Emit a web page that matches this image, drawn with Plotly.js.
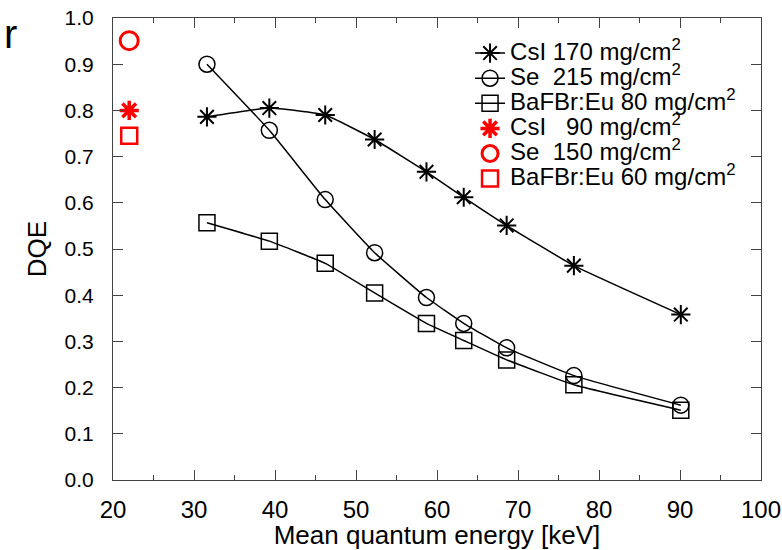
<!DOCTYPE html>
<html>
<head>
<meta charset="utf-8">
<script src="https://cdn.plot.ly/plotly-3.0.1.min.js"></script>
<style>html,body{margin:0;padding:0;background:#fff;}#chart{width:782px;height:550px;}</style>
</head>
<body>
<div id="chart"></div>
<script>
// Mean quantum energy [keV]
const energy = [31.6, 39.3, 46.2, 52.3, 58.7, 63.3, 68.6, 76.9, 90.1];
const csi170 = [0.786, 0.805, 0.790, 0.737, 0.667, 0.612, 0.551, 0.464, 0.358];
const se215 = [0.900, 0.757, 0.607, 0.492, 0.395, 0.339, 0.286, 0.226, 0.162];
const bafbr80 = [0.557, 0.517, 0.469, 0.405, 0.339, 0.302, 0.260, 0.206, 0.151];
const thinEnergy = [22];
const csi90 = [0.800];
const se150 = [0.951];
const bafbr60 = [0.745];
const seriesNames = [
  "CsI 170 mg/cm<sup>2</sup>",
  "Se\u00A0 215 mg/cm<sup>2</sup>",
  "BaFBr:Eu 80 mg/cm<sup>2</sup>",
  "CsI\u00A0\u00A0 90 mg/cm<sup>2</sup>",
  "Se\u00A0 150 mg/cm<sup>2</sup>",
  "BaFBr:Eu 60 mg/cm<sup>2</sup>"
];
const big = s => '<span style="font-size:24px">' + s + '</span>';

const blackLine = {color: "#000", width: 1.5, shape: "spline", smoothing: 0.35};
const traces = [
  {x: energy, y: csi170, name: big(seriesNames[0]), mode: "lines+markers", line: blackLine,
   marker: {symbol: "asterisk-open", size: 16, color: "#000", line: {color: "#000", width: 2}}},
  {x: energy, y: se215, name: big(seriesNames[1]), mode: "lines+markers", line: blackLine,
   marker: {symbol: "circle-open", size: 16, color: "#000", line: {color: "#000", width: 1.5}}},
  {x: energy, y: bafbr80, name: big(seriesNames[2]), mode: "lines+markers", line: blackLine,
   marker: {symbol: "square-open", size: 16, color: "#000", line: {color: "#000", width: 1.5}}},
  {x: thinEnergy, y: csi90, name: big(seriesNames[3]), mode: "markers",
   marker: {symbol: "asterisk-open", size: 16, color: "#ff0000", line: {color: "#ff0000", width: 3.5}}},
  {x: thinEnergy, y: se150, name: big(seriesNames[4]), mode: "markers",
   marker: {symbol: "circle-open", size: 18, color: "#ff0000", line: {color: "#ff0000", width: 3}}},
  {x: thinEnergy, y: bafbr60, name: big(seriesNames[5]), mode: "markers",
   marker: {symbol: "square-open", size: 16, color: "#ff0000", line: {color: "#ff0000", width: 2.5}}}
];

const layout = {
  width: 782, height: 550,
  margin: {l: 113, r: 21, t: 18, b: 70},
  paper_bgcolor: "#fff", plot_bgcolor: "#fff",
  font: {family: "Liberation Sans, Arial, sans-serif", color: "#000"},
  showlegend: true,
  legend: {x: 0.551, y: 0.962, xanchor: "left", yanchor: "top",
           bgcolor: "rgba(0,0,0,0)", borderwidth: 0,
           font: {size: 17, family: "Liberation Sans, Arial, sans-serif"},
           tracegroupgap: 0, itemwidth: 30},
  xaxis: {range: [20, 100], dtick: 10, tick0: 20, showgrid: false, zeroline: false,
          showline: true, linecolor: "#444", linewidth: 1, mirror: "ticks",
          ticks: "inside", ticklen: 10, tickcolor: "#444", ticklabelstandoff: 8,
          minor: {dtick: 5, ticks: "inside", ticklen: 5, tickcolor: "#444", showgrid: false},
          tickfont: {size: 24, family: "Liberation Sans Narrow, Liberation Sans, Arial, sans-serif"},
          title: {text: "Mean quantum energy [keV]", font: {size: 26}, standoff: 9}},
  yaxis: {range: [0, 1.0], dtick: 0.1, tick0: 0, tickformat: ".1f", showgrid: false, zeroline: false,
          showline: true, linecolor: "#444", linewidth: 1, mirror: "ticks",
          ticks: "inside", ticklen: 10, tickcolor: "#444", ticklabelstandoff: 14,
          tickfont: {size: 21},
          title: {text: "DQE", font: {size: 26}, standoff: 10}},
  annotations: [{text: "r", xref: "paper", yref: "paper", x: -0.172, y: 1.017,
                 xanchor: "left", yanchor: "top", showarrow: false,
                 font: {size: 40, family: "Liberation Sans, Arial, sans-serif", color: "#000"}}]
};

Plotly.newPlot("chart", traces, layout, {displayModeBar: false, staticPlot: true});
</script>
</body>
</html>
